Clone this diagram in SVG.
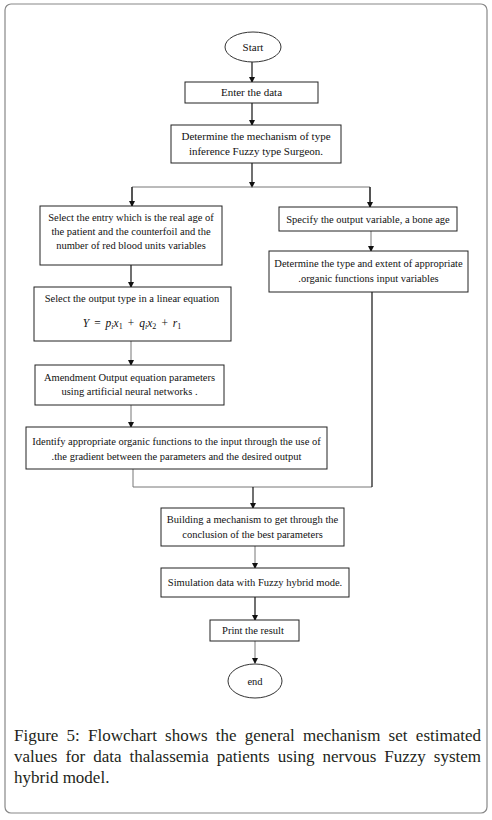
<svg xmlns="http://www.w3.org/2000/svg" width="492" height="820" viewBox="0 0 492 820">
<defs>
<style>
.box{fill:#fff;stroke:#222;stroke-width:1}
.t{font-family:"Liberation Serif","Times New Roman",serif;font-size:10.5px;fill:#111;text-anchor:middle}
.tl{font-size:11px}
.m{font-family:"Liberation Serif","Times New Roman",serif;font-size:11.5px;fill:#111;font-style:italic}
.c{stroke:#111;stroke-width:1.2;fill:none}
.g{stroke:#777;stroke-width:1;fill:none}
.cap{font-family:"Liberation Serif","Times New Roman",serif;font-size:17px;fill:#231f20}
</style>
<marker id="ah" markerWidth="6" markerHeight="6" refX="5" refY="3" orient="auto" markerUnits="userSpaceOnUse">
<path d="M0,0 L6,3 L0,6 z" fill="#111"/>
</marker>
</defs>
<rect x="5" y="4" width="482" height="809" rx="6" ry="6" fill="#fff" stroke="#888" stroke-width="1.2"/>

<g id="connectors">
<line class="c" x1="252" y1="62" x2="252" y2="82" marker-end="url(#ah)"/>
<line class="c" x1="252" y1="103" x2="252" y2="125" marker-end="url(#ah)"/>
<line class="c" x1="252" y1="163" x2="252" y2="187" marker-end="url(#ah)"/>
<polyline class="g" points="132,206 132,187 370,187 370,207"/>
<line class="c" x1="132" y1="187" x2="132" y2="206" marker-end="url(#ah)"/>
<line class="c" x1="370" y1="187" x2="370" y2="207" marker-end="url(#ah)"/>
<line class="c" x1="131" y1="265" x2="131" y2="287" marker-end="url(#ah)"/>
<line class="g" x1="371" y1="231" x2="371" y2="251" marker-end="url(#ah)"/>
<line class="g" x1="131" y1="341" x2="131" y2="365" marker-end="url(#ah)"/>
<line class="g" x1="131" y1="405" x2="131" y2="427" marker-end="url(#ah)"/>
<polyline class="g" points="133,469 133,487 372,487"/>
<line class="c" x1="372" y1="292" x2="372" y2="487"/>
<line class="c" x1="253" y1="487" x2="253" y2="508" marker-end="url(#ah)"/>
<line class="g" x1="255" y1="546" x2="255" y2="568" marker-end="url(#ah)"/>
<line class="c" x1="255" y1="597" x2="255" y2="620" marker-end="url(#ah)"/>
<line class="g" x1="255" y1="641" x2="255" y2="663" marker-end="url(#ah)"/>
</g>

<g id="start">
<ellipse cx="253" cy="47" rx="28" ry="15" fill="#fff" stroke="#333" stroke-width="1"/>
<text class="t tl" x="253" y="51">Start</text>
</g>
<g id="enter">
<rect class="box" x="185" y="82" width="133" height="21"/>
<text class="t tl" x="251.5" y="96">Enter the data</text>
</g>
<g id="determine">
<rect class="box" x="171" y="125" width="170" height="38"/>
<text class="t tl" x="256" y="140">Determine the mechanism of type</text>
<text class="t tl" x="256" y="155">inference Fuzzy type Surgeon.</text>
</g>
<g id="select-entry">
<rect class="box" x="40" y="206" width="182" height="59"/>
<text class="t" x="131" y="221">Select the entry which is the real age of</text>
<text class="t" x="131" y="235">the patient and the counterfoil and the</text>
<text class="t" x="131" y="249">number of red blood units variables</text>
</g>
<g id="specify-output">
<rect class="box" x="279" y="207" width="178" height="24"/>
<text class="t" x="368" y="223">Specify the output variable, a bone age</text>
</g>
<g id="determine-type">
<rect class="box" x="269" y="251" width="199" height="41"/>
<text class="t" x="368.5" y="267">Determine the type and extent of appropriate</text>
<text class="t" x="368.5" y="282">.organic functions input variables</text>
</g>
<g id="select-output">
<rect class="box" x="34" y="287" width="197" height="54"/>
<text class="t" x="132" y="302">Select the output type in a linear equation</text>
<text class="m" x="132" y="327" text-anchor="middle" word-spacing="1.5">Y = p<tspan font-size="8" dy="2">i</tspan><tspan dy="-2">x</tspan><tspan font-size="8" font-style="normal" dy="2">1</tspan><tspan dy="-2"> + q</tspan><tspan font-size="8" dy="2">i</tspan><tspan dy="-2">x</tspan><tspan font-size="8" font-style="normal" dy="2">2</tspan><tspan dy="-2"> + r</tspan><tspan font-size="8" font-style="normal" dy="2">1</tspan></text>
</g>
<g id="amendment">
<rect class="box" x="35" y="365" width="189" height="40"/>
<text class="t" x="129.5" y="381">Amendment Output equation parameters</text>
<text class="t" x="129.5" y="395">using artificial neural networks .</text>
</g>
<g id="identify">
<rect class="box" x="26" y="427" width="301" height="42"/>
<text class="t" x="176.5" y="445">Identify appropriate organic functions to the input through the use of</text>
<text class="t" x="176.5" y="460">.the gradient between the parameters and the desired output</text>
</g>
<g id="building">
<rect class="box" x="161" y="508" width="183" height="38"/>
<text class="t" x="252.5" y="523">Building a mechanism to get through the</text>
<text class="t" x="252.5" y="538">conclusion of the best parameters</text>
</g>
<g id="simulation">
<rect class="box" x="161" y="568" width="188" height="29"/>
<text class="t" x="255" y="586">Simulation data with Fuzzy hybrid mode.</text>
</g>
<g id="print">
<rect class="box" x="210" y="620" width="89" height="21"/>
<text class="t" x="253" y="634">Print the result</text>
</g>
<g id="end">
<ellipse cx="255" cy="681" rx="27" ry="17" fill="#fff" stroke="#333" stroke-width="1"/>
<text class="t" x="255" y="685">end</text>
</g>

<g id="caption">
<text class="cap" y="741"><tspan x="14">Figure</tspan><tspan x="66.6">5:</tspan><tspan x="88">Flowchart</tspan><tspan x="165.1">shows</tspan><tspan x="215.8">the</tspan><tspan x="244.8">general</tspan><tspan x="303">mechanism</tspan><tspan x="388.6">set</tspan></text>
<text class="cap" x="481" y="741" text-anchor="end">estimated</text>
<text class="cap" y="762"><tspan x="14">values</tspan><tspan x="65.4">for</tspan><tspan x="93.2">data</tspan><tspan x="129.5">thalassemia</tspan><tspan x="216.8">patients</tspan><tspan x="277.7">using</tspan><tspan x="322.5">nervous</tspan><tspan x="384.3">Fuzzy</tspan></text>
<text class="cap" x="481" y="762" text-anchor="end">system</text>
<text class="cap" x="14" y="783">hybrid model.</text>
</g>
</svg>
